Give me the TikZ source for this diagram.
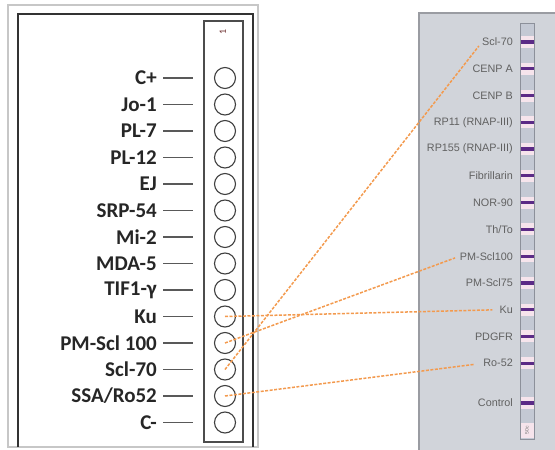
\documentclass[tikz,border=0pt]{standalone}
\usepackage{fontspec}
\setmainfont{Carlito}
\newfontfamily\stripfont{Liberation Sans}
\usetikzlibrary{positioning}
\definecolor{panelgray}{HTML}{D1D4DA}
\definecolor{paneledge}{HTML}{9A9CA2}
\definecolor{stripblue}{HTML}{C4C9D4}
\definecolor{stripedge}{HTML}{8C909A}
\definecolor{bandpink}{HTML}{F6E4EC}
\definecolor{bandpurple}{HTML}{5B2A86}
\definecolor{linkorange}{HTML}{F39A4E}

\begin{document}
\begin{tikzpicture}[x=1pt,y=-1pt,
  well/.style={circle,draw=black!75,line width=1.1pt,minimum size=21pt,inner sep=0pt},
  ablabel/.style={anchor=east,inner sep=0pt,text=black!85,font=\fontsize{21}{23}\selectfont\bfseries},
  tick/.style={black!65,line width=1.4pt},
  rlabel/.style={anchor=east,inner sep=0pt,text=black!62,font=\stripfont\fontsize{10.8}{11}\selectfont},
  link/.style={linkorange,line width=1.5pt,dash pattern=on 3pt off 1.5pt,shorten >=7pt}]
  \useasboundingbox (0,0) rectangle (555,450);
  % left panel frames
  \draw[black!22,line width=1.5pt] (8,5) rectangle (258,447);
  \draw[black!80,line width=2pt] (18,447) -- (18,14) -- (253,14) -- (253,447);
  % test strip with wells
  \draw[black!70,line width=1.3pt] (204,21) rectangle (243,442);
  \node[rotate=90,inner sep=0pt,font=\fontsize{10}{10}\selectfont,text=red!30!black!80] (num) at (223,32) {1};
  \foreach \txt [count=\i] in {C+,Jo-1,PL-7,PL-12,EJ,SRP-54,Mi-2,MDA-5,TIF1-γ,Ku,PM-Scl 100,Scl-70,SSA/Ro52,C-}{
    \node[well] (c\i) at (225,{78+26.5*(\i-1)}) {};
    \node[ablabel] (l\i) at (157,{78+26.5*(\i-1)}) {\txt};
    \draw[tick] ([xshift=6pt]l\i.east) -- ([xshift=-21pt]c\i.west);
  }
  % right panel
  \fill[panelgray] (419,13) rectangle (556,451);
  \draw[paneledge,line width=1.5pt] (419,451) -- (419,13) -- (556,13);
  % blot strip
  \draw[fill=stripblue,draw=stripedge,line width=0.8pt] (520,23) rectangle (534,439);
  \fill[bandpink] (520.5,423) rectangle (533.5,438);
  \node[rotate=90,inner sep=0pt,text=black!55,font=\stripfont\fontsize{5}{5}\selectfont] (lot) at (527,430) {50c};
  \foreach \txt [count=\i] in {Scl-70,CENP A,CENP B,RP11 (RNAP-III),RP155 (RNAP-III),Fibrillarin,NOR-90,Th/To,PM-Scl100,PM-Scl75,Ku,PDGFR,Ro-52}{
    \fill[bandpink] (520.5,{42+26.77*(\i-1)-6}) rectangle (533.5,{42+26.77*(\i-1)+6});
    \fill[bandpurple] (520.5,{42+26.77*(\i-1)-1.6}) rectangle (533.5,{42+26.77*(\i-1)+1.6});
    \node[rlabel] (r\i) at (513,{42+26.77*(\i-1)}) {\txt};
  }
  \fill[bandpink] (520.5,397) rectangle (533.5,409);
  \fill[bandpurple] (520.5,401.4) rectangle (533.5,404.6);
  \node[rlabel] (r14) at (513,403) {Control};
  % matching antigens
  \draw[link] (c10.center) -- (r11.west);
  \draw[link,shorten >=5pt] (c11.center) -- (r9.west);
  \draw[link,shorten >=5pt] (c12.center) -- (r1.west);
  \draw[link,shorten >=9pt] (c13.center) -- (r13.west);
\end{tikzpicture}
\end{document}
